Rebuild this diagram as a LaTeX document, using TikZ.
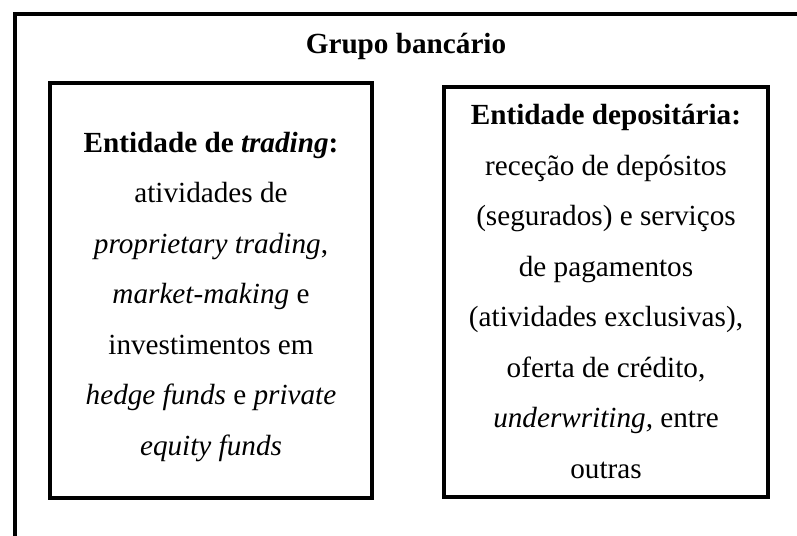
\documentclass[tikz,border=0pt]{standalone}
\usepackage{fontspec}
\setmainfont{Liberation Serif}
\usetikzlibrary{positioning}

\tikzset{
  caixa/.style={draw, line width=4pt, inner sep=0pt},
  texto/.style={align=center, inner sep=0pt, font=\fontsize{29.2}{50.5}\selectfont},
  titulo/.style={texto, font=\fontsize{29.2}{50.5}\selectfont\bfseries}
}

\begin{document}
\begin{tikzpicture}[x=1pt,y=-1pt]
\useasboundingbox (0,0) rectangle (797,535);
\clip (0,0) rectangle (797,535);

% The group frame, cut off at the right and the bottom.
\node[caixa, anchor=north west, minimum width=840pt, minimum height=580pt] (grupo) at (13,12) {};
\node[titulo, anchor=base] (titulo) at (406,53) {Grupo bancário};

% The trading entity.
\node[caixa, minimum width=322pt, minimum height=415pt] (trading) at (211,290.5) {};
\node[texto, anchor=base] (tradingtxt) at (211,455) {\textbf{Entidade de \textit{trading}:}\\
  atividades de\\
  \textit{proprietary trading},\\
  \textit{market-making} e\\
  investimentos em\\
  \textit{hedge funds} e \textit{private}\\
  \textit{equity funds}};

% The deposit-taking entity.
\node[caixa, minimum width=324pt, minimum height=410pt] (depositaria) at (606,292) {};
\node[texto, anchor=base] (depositariatxt) at (606,478) {\textbf{Entidade depositária:}\\
  receção de depósitos\\
  (segurados) e serviços\\
  de pagamentos\\
  (atividades exclusivas),\\
  oferta de crédito,\\
  \textit{underwriting,} entre\\
  outras};
\end{tikzpicture}
\end{document}
